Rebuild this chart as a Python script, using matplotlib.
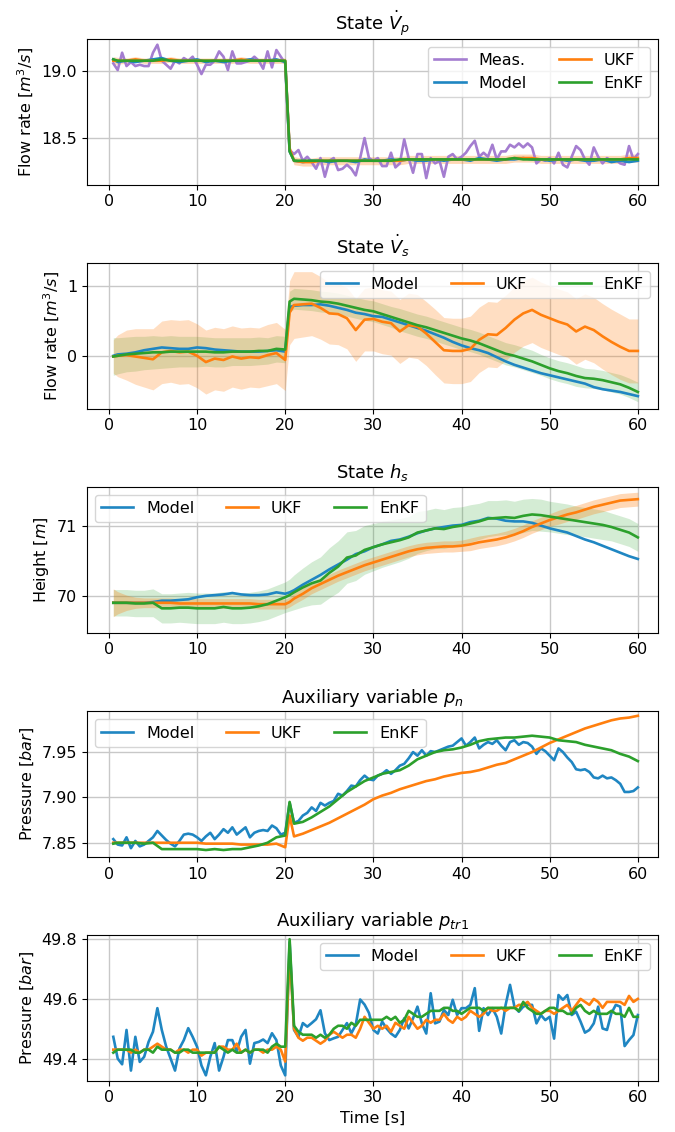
import numpy as np
import matplotlib.pyplot as plt

plt.rcParams['font.family'] = 'DejaVu Sans'
plt.rcParams['font.size'] = 11.5
plt.rcParams['axes.titlesize'] = 13

# time grids: 0.5 s samples and a coarser grid for the smooth estimates
t_fine = np.arange(1, 121) * 0.5
t_coarse = np.concatenate([[0.5], np.arange(1, 21), [20.5], np.arange(21, 61)])

# ---- State V_p ----
vp_meas = [
    19.06, 19.01, 19.14, 19.04, 19.07, 19.04, 19.05, 19.04, 19.04, 19.14,
    19.20, 19.08, 19.05, 19.02, 19.08, 19.06, 19.10, 19.08, 19.11, 19.05,
    18.98, 19.05, 19.05, 19.08, 19.15, 19.11, 19.01, 19.15, 19.06, 19.06,
    19.07, 19.08, 19.11, 19.08, 19.02, 19.15, 19.03, 19.16, 19.11, 19.06,
    18.41, 18.38, 18.41, 18.33, 18.36, 18.32, 18.27, 18.35, 18.21, 18.33,
    18.35, 18.26, 18.27, 18.30, 18.27, 18.22, 18.35, 18.50, 18.35, 18.33,
    18.35, 18.29, 18.29, 18.39, 18.28, 18.31, 18.49, 18.35, 18.24, 18.38,
    18.38, 18.20, 18.35, 18.31, 18.33, 18.21, 18.36, 18.38, 18.34, 18.36,
    18.39, 18.44, 18.48, 18.36, 18.39, 18.36, 18.45, 18.34, 18.40, 18.40,
    18.45, 18.43, 18.46, 18.43, 18.46, 18.43, 18.31, 18.34, 18.33, 18.35,
    18.31, 18.39, 18.30, 18.28, 18.36, 18.44, 18.41, 18.34, 18.30, 18.43,
    18.36, 18.31, 18.35, 18.33, 18.34, 18.31, 18.30, 18.44, 18.34, 18.38,
]
vp_model = [
    19.09, 19.07, 19.08, 19.07, 19.08, 19.09, 19.10, 19.08, 19.07, 19.08, 19.09,
    19.07, 19.08, 19.07, 19.08, 19.08, 19.09, 19.08, 19.08, 19.09, 19.07,
    18.40,
    18.33, 18.32, 18.33, 18.33, 18.32, 18.33, 18.33, 18.32, 18.34, 18.33,
    18.33, 18.34, 18.33, 18.34, 18.33, 18.33, 18.34, 18.33, 18.34, 18.34,
    18.33, 18.35, 18.34, 18.33, 18.34, 18.34, 18.35, 18.34, 18.34, 18.33,
    18.34, 18.33, 18.34, 18.33, 18.33, 18.34, 18.32, 18.33, 18.32, 18.33,
]
vp_ukf = [
    19.08, 19.08, 19.08, 19.09, 19.08, 19.08, 19.08, 19.09, 19.08, 19.08, 19.08,
    19.08, 19.08, 19.08, 19.08, 19.09, 19.08, 19.08, 19.08, 19.08, 19.08,
    18.42,
    18.33, 18.32, 18.32, 18.33, 18.33, 18.33, 18.33, 18.33, 18.33, 18.33,
    18.33, 18.33, 18.33, 18.34, 18.34, 18.34, 18.34, 18.34, 18.34, 18.34,
    18.34, 18.34, 18.34, 18.34, 18.34, 18.35, 18.35, 18.35, 18.34, 18.34,
    18.34, 18.34, 18.34, 18.34, 18.34, 18.34, 18.34, 18.34, 18.35, 18.35,
]
vp_ukf_sd = [
    0.03, 0.025, 0.02, 0.02, 0.02, 0.02, 0.02, 0.02, 0.02, 0.02, 0.02,
    0.02, 0.02, 0.02, 0.02, 0.02, 0.02, 0.02, 0.02, 0.02, 0.02,
    0.03,
    0.03, 0.03, 0.03, 0.03, 0.03, 0.03, 0.03, 0.03, 0.03, 0.03,
    0.03, 0.03, 0.03, 0.03, 0.03, 0.03, 0.03, 0.03, 0.03, 0.03,
    0.03, 0.03, 0.03, 0.03, 0.03, 0.03, 0.03, 0.03, 0.03, 0.03,
    0.03, 0.03, 0.03, 0.03, 0.03, 0.03, 0.03, 0.03, 0.03, 0.03,
]
vp_enkf = [
    19.09, 19.08, 19.08, 19.08, 19.08, 19.08, 19.09, 19.08, 19.08, 19.08, 19.08,
    19.08, 19.08, 19.08, 19.08, 19.08, 19.08, 19.08, 19.08, 19.08, 19.08,
    18.40,
    18.33, 18.33, 18.33, 18.33, 18.33, 18.33, 18.33, 18.33, 18.33, 18.33,
    18.33, 18.33, 18.34, 18.34, 18.34, 18.34, 18.34, 18.34, 18.34, 18.34,
    18.34, 18.34, 18.34, 18.34, 18.34, 18.35, 18.34, 18.34, 18.34, 18.34,
    18.34, 18.34, 18.34, 18.34, 18.34, 18.34, 18.34, 18.34, 18.34, 18.34,
]

# ---- State V_s ----
vs_model = [
    0.00, 0.02, 0.03, 0.05, 0.08, 0.10, 0.12, 0.11, 0.10, 0.10, 0.12,
    0.11, 0.09, 0.08, 0.07, 0.06, 0.06, 0.06, 0.07, 0.08, 0.06,
    0.70,
    0.72, 0.73, 0.73, 0.74, 0.72, 0.69, 0.66, 0.62, 0.60, 0.57,
    0.56, 0.52, 0.48, 0.44, 0.40, 0.36, 0.31, 0.26, 0.20, 0.15,
    0.11, 0.08, 0.04, -0.02, -0.08, -0.13, -0.17, -0.21, -0.25, -0.28,
    -0.31, -0.34, -0.37, -0.40, -0.45, -0.48, -0.50, -0.52, -0.55, -0.58,
]
vs_ukf = [
    -0.01, 0.00, 0.01, -0.01, -0.03, -0.05, 0.05, 0.07, 0.05, 0.06, 0.00,
    -0.09, -0.04, -0.06, -0.01, -0.04, -0.02, -0.03, 0.01, 0.04, -0.06,
    0.62,
    0.73, 0.74, 0.75, 0.69, 0.61, 0.60, 0.54, 0.37, 0.52, 0.53,
    0.49, 0.47, 0.35, 0.44, 0.42, 0.32, 0.20, 0.08, 0.07, 0.07,
    0.10, 0.23, 0.31, 0.30, 0.40, 0.52, 0.61, 0.66, 0.59, 0.54,
    0.49, 0.45, 0.35, 0.42, 0.37, 0.28, 0.20, 0.13, 0.07, 0.07,
]
vs_ukf_sd = [
    0.24, 0.30, 0.36, 0.40, 0.42, 0.44, 0.45, 0.45, 0.46, 0.46, 0.46,
    0.46, 0.45, 0.45, 0.44, 0.44, 0.43, 0.43, 0.44, 0.44, 0.44,
    0.46,
    0.48, 0.47, 0.46, 0.45, 0.44, 0.44, 0.44, 0.45, 0.45, 0.46,
    0.46, 0.46, 0.46, 0.46, 0.46, 0.46, 0.47, 0.47, 0.47, 0.47,
    0.47, 0.47, 0.47, 0.47, 0.47, 0.47, 0.47, 0.47, 0.47, 0.47,
    0.47, 0.47, 0.47, 0.47, 0.47, 0.47, 0.47, 0.47, 0.46, 0.46,
]
vs_enkf = [
    -0.01, 0.00, 0.02, 0.03, 0.04, 0.05, 0.05, 0.06, 0.06, 0.06, 0.06,
    0.06, 0.05, 0.05, 0.06, 0.06, 0.06, 0.07, 0.07, 0.10, 0.09,
    0.78,
    0.82, 0.81, 0.80, 0.78, 0.77, 0.75, 0.72, 0.69, 0.66, 0.64,
    0.60, 0.56, 0.52, 0.48, 0.44, 0.41, 0.37, 0.33, 0.29, 0.25,
    0.22, 0.18, 0.13, 0.08, 0.03, 0.00, -0.04, -0.08, -0.13, -0.18,
    -0.22, -0.25, -0.29, -0.32, -0.33, -0.35, -0.38, -0.41, -0.46, -0.52,
]
vs_enkf_sd = [
    0.27, 0.26, 0.25, 0.25, 0.24, 0.24, 0.23, 0.23, 0.22, 0.22, 0.22,
    0.21, 0.21, 0.21, 0.20, 0.20, 0.20, 0.20, 0.19, 0.19, 0.19,
    0.15,
    0.15, 0.15, 0.15, 0.15, 0.15, 0.15, 0.15, 0.15, 0.15, 0.15,
    0.15, 0.15, 0.16, 0.16, 0.16, 0.16, 0.16, 0.16, 0.16, 0.16,
    0.16, 0.16, 0.16, 0.16, 0.16, 0.16, 0.16, 0.16, 0.15, 0.15,
    0.15, 0.15, 0.15, 0.14, 0.14, 0.14, 0.14, 0.14, 0.14, 0.14,
]

# ---- State h_s ----
hs_model = [
    69.90, 69.90, 69.90, 69.90, 69.90, 69.91, 69.93, 69.93, 69.94, 69.95, 69.98,
    70.00, 70.01, 70.02, 70.04, 70.02, 70.01, 70.01, 70.02, 70.05, 70.03,
    70.05,
    70.08, 70.16, 70.23, 70.30, 70.38, 70.45, 70.52, 70.60, 70.64, 70.70,
    70.74, 70.79, 70.81, 70.85, 70.90, 70.94, 70.97, 70.99, 71.01, 71.02,
    71.06, 71.08, 71.12, 71.11, 71.08, 71.07, 71.07, 71.05, 71.01, 70.97,
    70.94, 70.91, 70.86, 70.81, 70.77, 70.72, 70.67, 70.62, 70.57, 70.53,
]
hs_ukf = [
    69.90, 69.90, 69.90, 69.90, 69.90, 69.90, 69.90, 69.90, 69.89, 69.89, 69.89,
    69.89, 69.89, 69.89, 69.89, 69.89, 69.89, 69.88, 69.88, 69.88, 69.88,
    69.91,
    69.96, 70.03, 70.11, 70.17, 70.23, 70.29, 70.34, 70.39, 70.44, 70.48,
    70.52, 70.56, 70.60, 70.64, 70.67, 70.69, 70.70, 70.71, 70.71, 70.72,
    70.74, 70.77, 70.79, 70.81, 70.84, 70.88, 70.93, 70.99, 71.04, 71.09,
    71.13, 71.17, 71.20, 71.24, 71.28, 71.31, 71.34, 71.37, 71.38, 71.39,
]
hs_ukf_sd = [
    0.20, 0.16, 0.11, 0.08, 0.07, 0.07, 0.07, 0.07, 0.07, 0.07, 0.07,
    0.07, 0.07, 0.07, 0.07, 0.07, 0.07, 0.07, 0.07, 0.07, 0.07,
    0.07,
    0.08, 0.08, 0.08, 0.08, 0.08, 0.08, 0.08, 0.08, 0.08, 0.08,
    0.08, 0.08, 0.08, 0.08, 0.08, 0.08, 0.08, 0.08, 0.08, 0.08,
    0.09, 0.09, 0.09, 0.09, 0.09, 0.09, 0.09, 0.09, 0.09, 0.09,
    0.10, 0.10, 0.10, 0.10, 0.10, 0.10, 0.10, 0.10, 0.10, 0.10,
]
hs_enkf = [
    69.90, 69.90, 69.90, 69.89, 69.89, 69.90, 69.82, 69.82, 69.83, 69.83, 69.82,
    69.82, 69.82, 69.84, 69.82, 69.82, 69.83, 69.85, 69.88, 69.93, 69.98,
    70.01,
    70.05, 70.12, 70.18, 70.22, 70.33, 70.42, 70.55, 70.58, 70.66, 70.70,
    70.74, 70.77, 70.80, 70.84, 70.91, 70.94, 70.97, 70.96, 70.99, 71.01,
    71.04, 71.07, 71.11, 71.12, 71.13, 71.12, 71.15, 71.17, 71.16, 71.14,
    71.12, 71.10, 71.08, 71.06, 71.04, 71.02, 70.99, 70.95, 70.91, 70.84,
]
hs_enkf_sd = [
    0.19, 0.19, 0.19, 0.19, 0.19, 0.20, 0.21, 0.21, 0.21, 0.22, 0.22,
    0.22, 0.22, 0.22, 0.22, 0.22, 0.22, 0.22, 0.22, 0.22, 0.22,
    0.23,
    0.25, 0.28, 0.31, 0.34, 0.36, 0.37, 0.37, 0.36, 0.35, 0.34,
    0.33, 0.32, 0.31, 0.30, 0.30, 0.29, 0.29, 0.28, 0.28, 0.27,
    0.27, 0.26, 0.26, 0.25, 0.25, 0.24, 0.24, 0.23, 0.23, 0.22,
    0.22, 0.22, 0.21, 0.21, 0.21, 0.21, 0.20, 0.20, 0.20, 0.20,
]

# ---- Auxiliary p_n ----
pn_model = [
    7.854, 7.848, 7.847, 7.856, 7.844, 7.852, 7.846, 7.848, 7.852, 7.856,
    7.863, 7.858, 7.853, 7.849, 7.846, 7.852, 7.859, 7.860, 7.859, 7.856,
    7.852, 7.857, 7.861, 7.854, 7.859, 7.865, 7.861, 7.867, 7.859, 7.863,
    7.867, 7.856, 7.861, 7.863, 7.864, 7.863, 7.869, 7.866, 7.859, 7.861,
    7.894, 7.872, 7.874, 7.880, 7.883, 7.889, 7.885, 7.894, 7.891, 7.894,
    7.896, 7.904, 7.902, 7.907, 7.913, 7.912, 7.919, 7.924, 7.920, 7.919,
    7.924, 7.926, 7.930, 7.926, 7.930, 7.935, 7.937, 7.943, 7.950, 7.946,
    7.952, 7.946, 7.951, 7.950, 7.952, 7.954, 7.956, 7.957, 7.961, 7.965,
    7.957, 7.961, 7.966, 7.954, 7.958, 7.961, 7.959, 7.963, 7.957, 7.952,
    7.961, 7.963, 7.958, 7.961, 7.960, 7.956, 7.948, 7.954, 7.951, 7.946,
    7.941, 7.954, 7.950, 7.944, 7.939, 7.931, 7.930, 7.931, 7.928, 7.922,
    7.921, 7.924, 7.921, 7.922, 7.919, 7.915, 7.906, 7.906, 7.907, 7.911,
]
pn_ukf = [
    7.850, 7.850, 7.850, 7.850, 7.850, 7.850, 7.850, 7.850, 7.850, 7.850, 7.850,
    7.849, 7.849, 7.849, 7.849, 7.848, 7.848, 7.848, 7.848, 7.849, 7.845,
    7.880,
    7.857, 7.860, 7.864, 7.868, 7.872, 7.877, 7.882, 7.887, 7.892, 7.898,
    7.902, 7.905, 7.909, 7.912, 7.915, 7.918, 7.920, 7.923, 7.925, 7.927,
    7.928, 7.930, 7.933, 7.936, 7.938, 7.942, 7.946, 7.950, 7.955, 7.960,
    7.964, 7.968, 7.972, 7.976, 7.979, 7.982, 7.985, 7.987, 7.988, 7.990,
]
pn_enkf = [
    7.849, 7.850, 7.850, 7.850, 7.849, 7.850, 7.843, 7.843, 7.843, 7.843, 7.843,
    7.842, 7.843, 7.842, 7.843, 7.843, 7.845, 7.847, 7.850, 7.856, 7.858,
    7.895,
    7.871, 7.873, 7.878, 7.884, 7.890, 7.898, 7.906, 7.912, 7.918, 7.922,
    7.926, 7.928, 7.930, 7.935, 7.942, 7.946, 7.950, 7.952, 7.953, 7.955,
    7.958, 7.962, 7.964, 7.965, 7.966, 7.966, 7.967, 7.968, 7.967, 7.966,
    7.963, 7.962, 7.961, 7.958, 7.956, 7.954, 7.952, 7.948, 7.945, 7.940,
]

# ---- Auxiliary p_tr1 ----
ptr_model = [
    49.473, 49.400, 49.381, 49.496, 49.360, 49.473, 49.389, 49.406, 49.456, 49.490,
    49.569, 49.496, 49.440, 49.400, 49.360, 49.434, 49.462, 49.502, 49.473, 49.440,
    49.377, 49.344, 49.406, 49.452, 49.360, 49.406, 49.462, 49.462, 49.423, 49.473,
    49.496, 49.383, 49.452, 49.456, 49.464, 49.452, 49.485, 49.462, 49.377, 49.344,
    49.790, 49.496, 49.473, 49.519, 49.507, 49.519, 49.532, 49.562, 49.485, 49.462,
    49.468, 49.473, 49.496, 49.519, 49.485, 49.513, 49.598, 49.581, 49.553, 49.496,
    49.484, 49.524, 49.501, 49.484, 49.473, 49.496, 49.535, 49.501, 49.535, 49.574,
    49.518, 49.484, 49.619, 49.518, 49.524, 49.563, 49.546, 49.597, 49.546, 49.569,
    49.569, 49.580, 49.636, 49.493, 49.569, 49.546, 49.569, 49.540, 49.484, 49.580,
    49.647, 49.574, 49.557, 49.574, 49.580, 49.580, 49.518, 49.546, 49.529, 49.540,
    49.467, 49.613, 49.597, 49.613, 49.546, 49.557, 49.524, 49.487, 49.496, 49.518,
    49.574, 49.501, 49.496, 49.552, 49.580, 49.574, 49.442, 49.462, 49.479, 49.546,
]
ptr_ukf = [
    49.43, 49.43, 49.43, 49.43, 49.42, 49.43, 49.42, 49.43, 49.43, 49.44,
    49.45, 49.44, 49.43, 49.43, 49.42, 49.43, 49.43, 49.42, 49.43, 49.43,
    49.41, 49.42, 49.42, 49.42, 49.44, 49.44, 49.43, 49.43, 49.45, 49.42,
    49.43, 49.42, 49.43, 49.43, 49.42, 49.43, 49.43, 49.44, 49.43, 49.39,
    49.76, 49.50, 49.47, 49.46, 49.47, 49.47, 49.46, 49.45, 49.46, 49.48,
    49.49, 49.48, 49.47, 49.48, 49.48, 49.47, 49.50, 49.54, 49.52, 49.50,
    49.51, 49.50, 49.51, 49.49, 49.52, 49.51, 49.50, 49.54, 49.52, 49.50,
    49.51, 49.53, 49.52, 49.53, 49.53, 49.55, 49.53, 49.52, 49.54, 49.53,
    49.54, 49.56, 49.55, 49.54, 49.55, 49.57, 49.56, 49.56, 49.57, 49.56,
    49.57, 49.57, 49.58, 49.58, 49.59, 49.57, 49.56, 49.55, 49.56, 49.56,
    49.55, 49.56, 49.57, 49.58, 49.56, 49.58, 49.60, 49.59, 49.58, 49.60,
    49.59, 49.57, 49.59, 49.59, 49.59, 49.59, 49.58, 49.61, 49.59, 49.60,
]
ptr_enkf = [
    49.42, 49.43, 49.43, 49.43, 49.43, 49.42, 49.42, 49.43, 49.43, 49.42,
    49.44, 49.43, 49.43, 49.43, 49.42, 49.42, 49.43, 49.43, 49.42, 49.42,
    49.42, 49.42, 49.42, 49.42, 49.44, 49.43, 49.42, 49.43, 49.42, 49.42,
    49.43, 49.42, 49.43, 49.43, 49.43, 49.42, 49.44, 49.45, 49.44, 49.44,
    49.80, 49.51, 49.49, 49.48, 49.48, 49.48, 49.47, 49.48, 49.47, 49.48,
    49.50, 49.51, 49.51, 49.50, 49.52, 49.51, 49.53, 49.53, 49.53, 49.53,
    49.53, 49.53, 49.54, 49.53, 49.54, 49.52, 49.53, 49.56, 49.55, 49.54,
    49.54, 49.55, 49.56, 49.56, 49.56, 49.57, 49.57, 49.56, 49.56, 49.55,
    49.56, 49.57, 49.57, 49.57, 49.56, 49.57, 49.57, 49.57, 49.57, 49.57,
    49.57, 49.57, 49.56, 49.59, 49.57, 49.56, 49.55, 49.55, 49.56, 49.57,
    49.57, 49.56, 49.56, 49.55, 49.55, 49.57, 49.58, 49.56, 49.55, 49.56,
    49.55, 49.55, 49.55, 49.56, 49.55, 49.55, 49.54, 49.57, 49.54, 49.54,
]

c_meas = '#a47dd0'
c_model = '#1f86c2'
c_ukf = '#ff7f0e'
c_enkf = '#2ca02c'
lw = 1.9

fig = plt.figure(figsize=(6.75, 11.32), dpi=100)
bottoms = [0.8368, 0.6390, 0.4411, 0.2427, 0.0453]
axes = [fig.add_axes([0.129, b, 0.846, 0.129]) for b in bottoms]


def band(ax, t, mean, sd, color, alpha):
    mean = np.array(mean)
    sd = np.array(sd)
    ax.fill_between(t, mean - sd, mean + sd, color=color, alpha=alpha, lw=0)


# panel 1
ax = axes[0]
band(ax, t_coarse, vp_ukf, vp_ukf_sd, c_ukf, 0.3)
ax.plot(t_fine, vp_meas, color=c_meas, lw=lw, label='Meas.')
ax.plot(t_coarse, vp_model, color=c_model, lw=lw, label='Model')
ax.plot(t_coarse, vp_ukf, color=c_ukf, lw=lw, label='UKF')
ax.plot(t_coarse, vp_enkf, color=c_enkf, lw=lw, label='EnKF')
ax.set_title(r'State $\dot{V}_p$')
ax.set_ylabel(r'Flow rate [$m^3/s$]')
ax.set_ylim(18.15, 19.245)
ax.set_yticks([18.5, 19.0])
ax.legend(loc='upper right', ncol=2)

# panel 2
ax = axes[1]
band(ax, t_coarse, vs_enkf, vs_enkf_sd, c_enkf, 0.2)
band(ax, t_coarse, vs_ukf, vs_ukf_sd, c_ukf, 0.25)
ax.plot(t_coarse, vs_model, color=c_model, lw=lw, label='Model')
ax.plot(t_coarse, vs_ukf, color=c_ukf, lw=lw, label='UKF')
ax.plot(t_coarse, vs_enkf, color=c_enkf, lw=lw, label='EnKF')
ax.set_title(r'State $\dot{V}_s$')
ax.set_ylabel(r'Flow rate [$m^3/s$]')
ax.set_ylim(-0.76, 1.34)
ax.set_yticks([0, 1])
ax.legend(loc='upper right', ncol=3)

# panel 3
ax = axes[2]
band(ax, t_coarse, hs_enkf, hs_enkf_sd, c_enkf, 0.2)
band(ax, t_coarse, hs_ukf, hs_ukf_sd, c_ukf, 0.3)
ax.plot(t_coarse, hs_model, color=c_model, lw=lw, label='Model')
ax.plot(t_coarse, hs_ukf, color=c_ukf, lw=lw, label='UKF')
ax.plot(t_coarse, hs_enkf, color=c_enkf, lw=lw, label='EnKF')
ax.set_title(r'State $h_s$')
ax.set_ylabel(r'Height [$m$]')
ax.set_ylim(69.47, 71.57)
ax.set_yticks([70, 71])
ax.legend(loc='upper left', ncol=3)

# panel 4
ax = axes[3]
ax.plot(t_fine, pn_model, color=c_model, lw=lw, label='Model')
ax.plot(t_coarse, pn_ukf, color=c_ukf, lw=lw, label='UKF')
ax.plot(t_coarse, pn_enkf, color=c_enkf, lw=lw, label='EnKF')
ax.set_title(r'Auxiliary variable $p_n$')
ax.set_ylabel(r'Pressure [$bar$]')
ax.set_ylim(7.834, 7.995)
ax.set_yticks([7.85, 7.90, 7.95])
ax.legend(loc='upper left', ncol=3)

# panel 5
ax = axes[4]
ax.plot(t_fine, ptr_model, color=c_model, lw=lw, label='Model')
ax.plot(t_fine, ptr_ukf, color=c_ukf, lw=lw, label='UKF')
ax.plot(t_fine, ptr_enkf, color=c_enkf, lw=lw, label='EnKF')
ax.set_title(r'Auxiliary variable $p_{tr1}$')
ax.set_ylabel(r'Pressure [$bar$]')
ax.set_ylim(49.326, 49.815)
ax.set_yticks([49.4, 49.6, 49.8])
ax.set_xlabel('Time [s]')
ax.legend(loc='upper right', ncol=3)

for ax in axes:
    ax.set_xlim(-2.475, 62.3)
    ax.set_xticks([0, 10, 20, 30, 40, 50, 60])
    ax.grid(True, color='#c8c8c8', lw=1.0)
    ax.set_axisbelow(True)

fig.savefig('out.png', dpi=100)
